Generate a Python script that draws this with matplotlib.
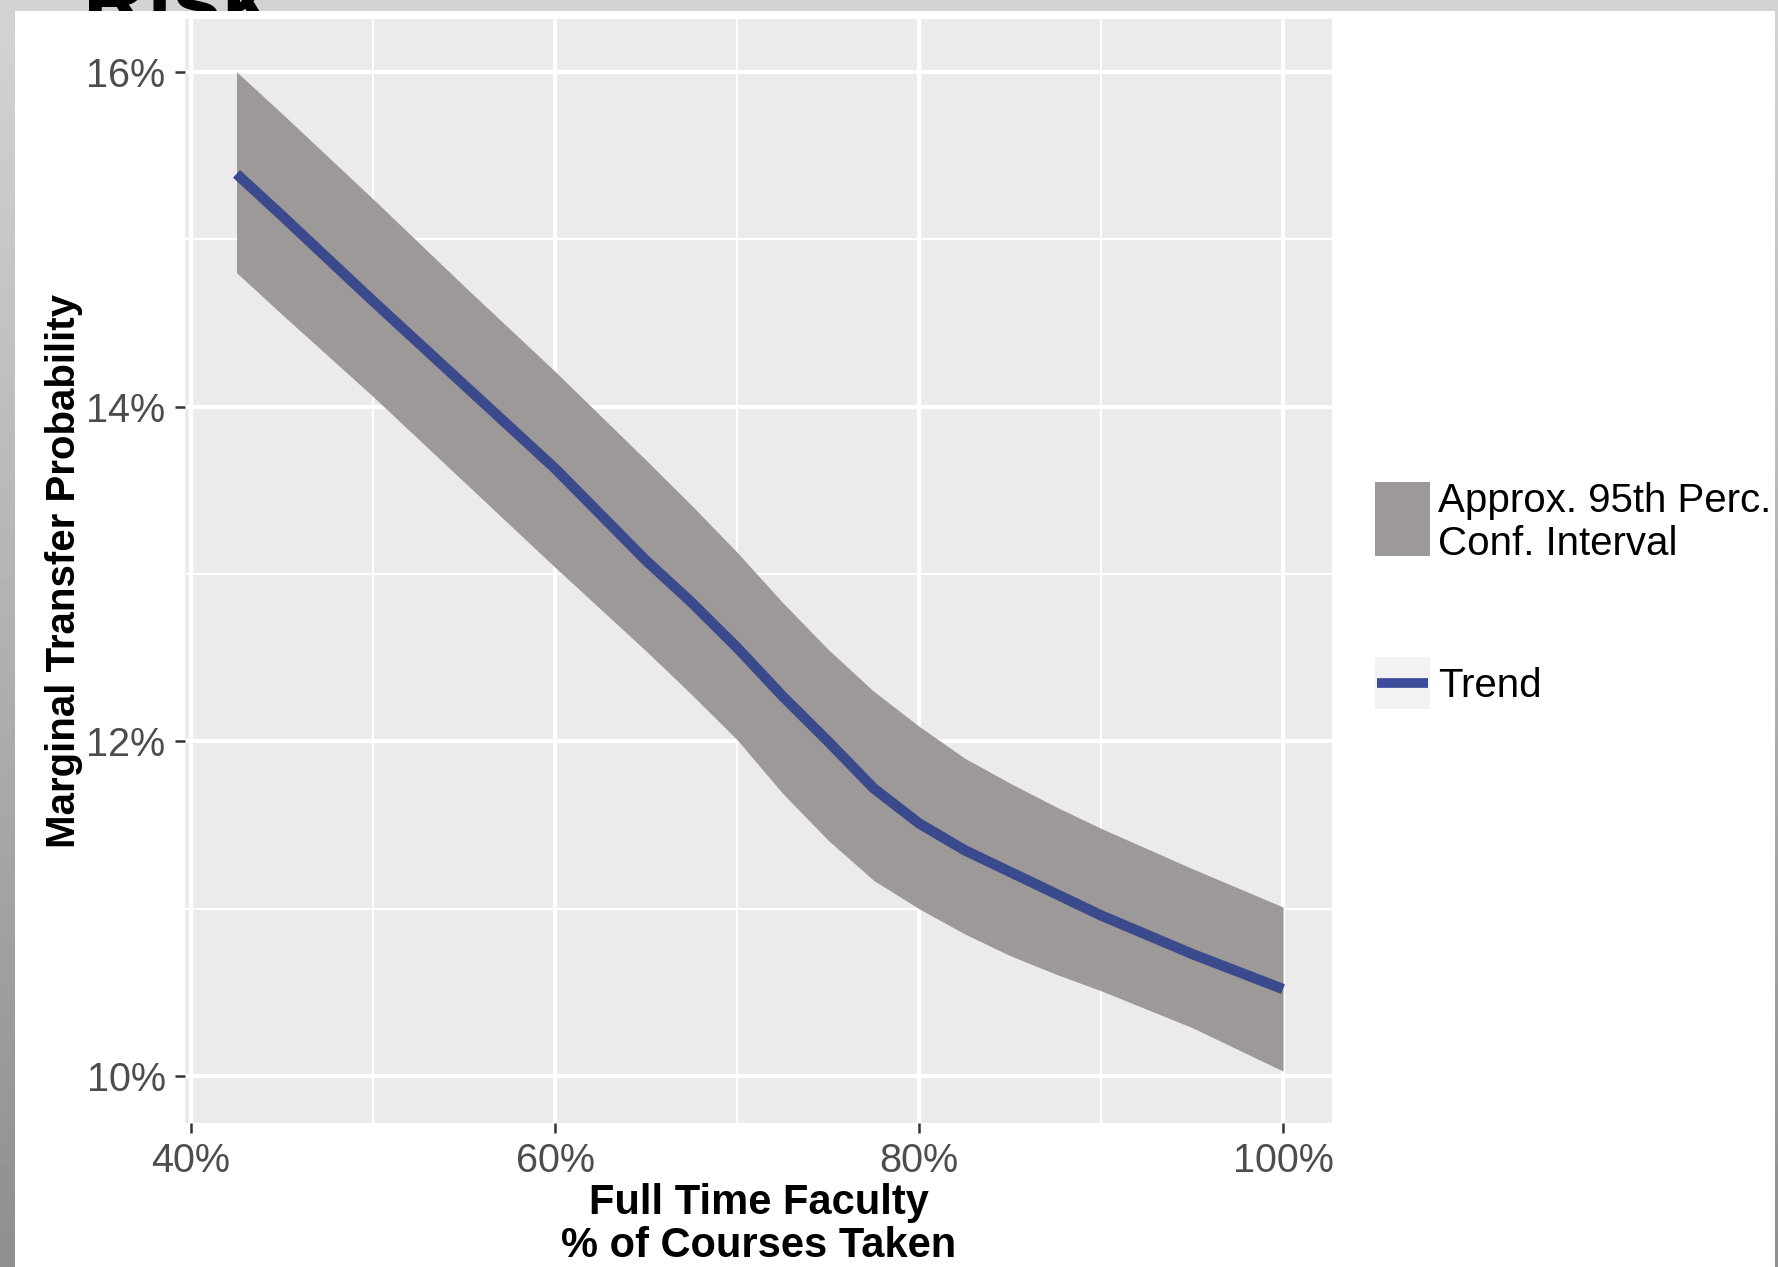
import numpy as np
import matplotlib.pyplot as plt
from matplotlib.patches import Rectangle
from matplotlib.ticker import FuncFormatter

plt.rcParams['font.family'] = ['Liberation Sans', 'DejaVu Sans']

# values (percent)
faculty_pct = [42.5, 45, 50, 55, 60, 65, 67.5, 70, 72.5, 75, 77.5, 80, 82.5, 85, 87.5, 90, 95, 100]
trend = [15.39, 15.14, 14.63, 14.13, 13.63, 13.08, 12.83, 12.56, 12.27, 12.00, 11.72, 11.51, 11.35, 11.22, 11.09, 10.96, 10.73, 10.52]
ci_high = [16.00, 15.75, 15.24, 14.72, 14.21, 13.68, 13.41, 13.13, 12.83, 12.55, 12.30, 12.09, 11.90, 11.75, 11.61, 11.48, 11.24, 11.01]
ci_low = [14.80, 14.55, 14.06, 13.55, 13.04, 12.54, 12.28, 12.01, 11.69, 11.41, 11.17, 11.00, 10.85, 10.72, 10.61, 10.51, 10.29, 10.03]
x_ticks = [40, 60, 80, 100]
y_ticks = [10, 12, 14, 16]

W, H = 1778, 1267
fig = plt.figure(figsize=(W / 100, H / 100), dpi=100)

# slide background behind the chart
bg = fig.add_axes([0, 0, 1, 1], zorder=-10)
grad = np.linspace(0.83, 0.56, 256).reshape(-1, 1)
bg.imshow(grad, cmap='gray', vmin=0, vmax=1, aspect='auto', extent=[0, W, H, 0])
bg.set_xlim(0, W)
bg.set_ylim(H, 0)
bg.axis('off')
bg.text(83, 30, 'Risk', fontsize=64, fontweight='bold', color='black', va='baseline', zorder=3)
bg.add_patch(Rectangle((15, 11), 1760, H - 11, facecolor='white', edgecolor='none', zorder=5))

# main panel
ax = fig.add_axes([185 / W, 1 - 1123 / H, (1332 - 185) / W, (1123 - 19) / H])
ax.set_facecolor('#ebebeb')
ax.fill_between(faculty_pct, ci_low, ci_high, color='#9d9998', lw=0, zorder=2)
ax.plot(faculty_pct, trend, color='#3b4a8c', lw=7.5, solid_capstyle='butt',
        solid_joinstyle='round', zorder=3)

ax.set_xlim(39.67, 102.69)
ax.set_ylim(9.72, 16.315)
ax.set_xticks(x_ticks)
ax.set_yticks(y_ticks)
ax.set_xticks([50, 70, 90], minor=True)
ax.set_yticks([11, 13, 15], minor=True)
pct = FuncFormatter(lambda v, p: f'{v:.0f}%')
ax.xaxis.set_major_formatter(pct)
ax.yaxis.set_major_formatter(pct)
ax.grid(which='major', color='white', lw=3.0)
ax.grid(which='minor', color='white', lw=1.5)
ax.set_axisbelow(True)
for s in ax.spines.values():
    s.set_visible(False)
ax.tick_params(which='major', length=7, width=1.8, color='#333333',
               labelsize=28.5, labelcolor='#4d4d4d', pad=7)
ax.tick_params(which='minor', length=0)

ax.set_xlabel('Full Time Faculty\n% of Courses Taken', fontsize=30, fontweight='bold',
              linespacing=1.12)
ax.xaxis.set_label_coords(0.5, -0.054)
ax.set_ylabel('Marginal Transfer Probability', fontsize=29, fontweight='bold')
ax.yaxis.set_label_coords(-0.089, 0.5)

# legend drawn in pixel coordinates
lg = fig.add_axes([0, 0, 1, 1], zorder=6)
lg.set_xlim(0, W)
lg.set_ylim(H, 0)
lg.axis('off')
lg.add_patch(Rectangle((1375, 482), 55, 74, facecolor='#9d9998', edgecolor='none'))
lg.add_patch(Rectangle((1375, 657), 55, 52, facecolor='#f2f2f2', edgecolor='none'))
lg.plot([1377, 1428], [683, 683], color='#3d4c9a', lw=7, solid_capstyle='butt')
lg.text(1438, 512, 'Approx. 95th Perc.', fontsize=29, va='baseline')
lg.text(1438, 555, 'Conf. Interval', fontsize=29, va='baseline')
lg.text(1438, 697, 'Trend', fontsize=29, va='baseline')

plt.savefig('out.png', dpi=100)
